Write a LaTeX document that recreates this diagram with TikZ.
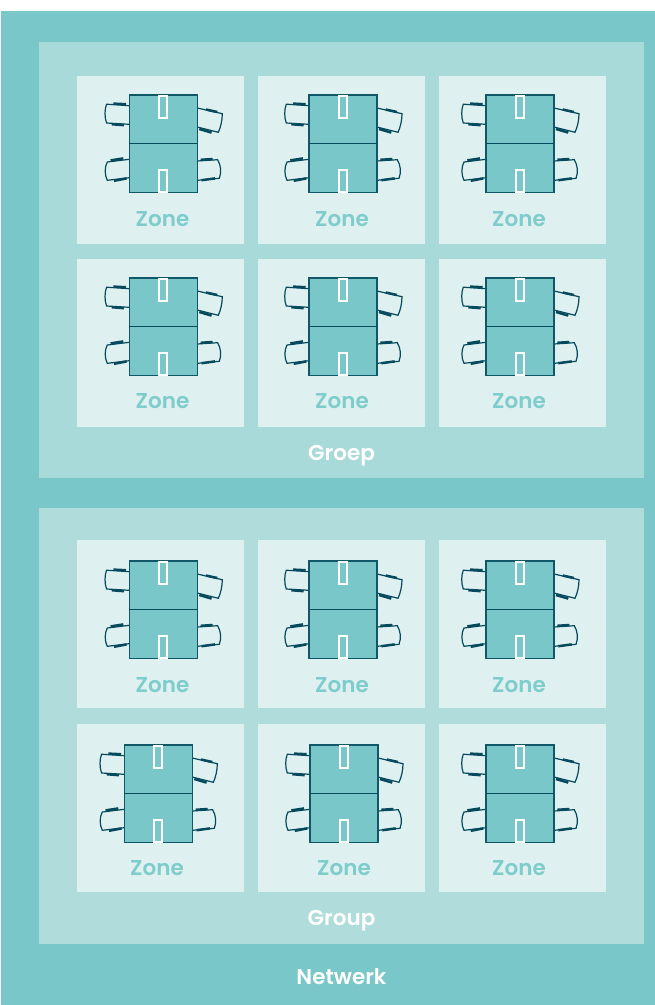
\documentclass[tikz,border=0pt]{standalone}
\usepackage{fontspec}
\setmainfont{Poppins}[UprightFont=* SemiBold]
\definecolor{netwerkkleur}{HTML}{79C7C8}
\definecolor{groepkleur}{HTML}{A9DADA}
\definecolor{groupkleur}{HTML}{B0DCDC}
\definecolor{zonekleur}{HTML}{DFF0F0}
\definecolor{tekstkleur}{HTML}{7ECCCB}
\definecolor{donker}{HTML}{044A5C}
\tikzset{
  x=1pt,y=-1pt,
  stoel/.style={draw=donker,line width=1.2pt,fill=none},
  arm/.style={draw=donker,line width=2.5pt},
  tafel/.style={draw=donker!90!netwerkkleur,line width=1.2pt,fill=netwerkkleur},
  gleuf/.style={draw=white,line width=1.8pt},
  zonelabel/.style={text=tekstkleur,font=\fontsize{21.5}{24}\selectfont,anchor=base},
  witlabel/.style={text=white,font=\fontsize{21.5}{24}\selectfont,anchor=base},
}
\newcommand{\zonetafel}{
  % chairs
  \draw[stoel] (0,10.7) -- (-22.7,9.2) .. controls (-24.8,14) and (-24.8,23) .. (-22.7,28) -- (0,29.3);
  \draw[stoel] (68,13) -- (93,18.7) .. controls (93,25) and (91.5,32) .. (89,37.3) -- (68,32);
  \draw[stoel] (0,64.3) -- (-22,67) .. controls (-24.8,72) and (-24.8,80) .. (-22,85.3) -- (0,82.7);
  \draw[stoel] (68,66) -- (88.3,64.7) .. controls (91.5,70) and (92.5,77) .. (90,83.3) -- (68,85.3);
  \draw[arm] (-16,8.6) -- (-3.3,9.2);
  \draw[arm] (-17.7,29.2) -- (-5.3,30.2);
  \draw[arm] (76.7,14.5) -- (88,17);
  \draw[arm] (70,34) -- (82.3,37.6);
  \draw[arm] (-18.7,65.4) -- (-6,63.4);
  \draw[arm] (-15.3,85.8) -- (-2.7,83.4);
  \draw[arm] (71.3,64.8) -- (83.3,64);
  \draw[arm] (72.3,85.2) -- (85.7,83.4);
  % table
  \draw[tafel] (0,0) rectangle (68,97.5);
  \draw[draw=donker,line width=1pt] (0,48) -- (68,48);
  \draw[gleuf] (29.7,0.7) rectangle (37.9,23);
  \draw[gleuf] (29.7,75) rectangle (37.9,97);
}
\begin{document}
\begin{tikzpicture}
\useasboundingbox (0,0) rectangle (655,1005);

% Network
\fill[netwerkkleur] (1,11) rectangle (655,1005);
\node[witlabel] (netwerk) at (341.5,984) {Netwerk};

% Groups
\fill[groepkleur] (39,42) rectangle (644,478);
\fill[groupkleur] (39,508) rectangle (644,944);
\node[witlabel] (groep) at (341.5,460) {Groep};
\node[witlabel] (group) at (341.5,925) {Group};

% Zones
\foreach \px/\py/\tx/\ty/\lx/\ly in {
    77/76/129.3/95/162.5/226, 258/76/309/95/342/226, 439/76/486/95/519/226,
    77/259/129.3/278/162.5/408, 258/259/309/278/342/408, 439/259/486/278/519/408,
    77/540/129.3/561/162.5/692, 258/540/309/561/342/692, 439/540/486/561/519/692,
    77/724/124.3/745/157/875, 258/724/310/745/344/875, 439/724/486/745/519/875}{
  \fill[zonekleur] (\px,\py) rectangle ++(167,168);
  \begin{scope}[shift={(\tx,\ty)}]
    \zonetafel
  \end{scope}
  \node[zonelabel] (zone-\px-\py) at (\lx,\ly) {Zone};
}

\end{tikzpicture}
\end{document}
